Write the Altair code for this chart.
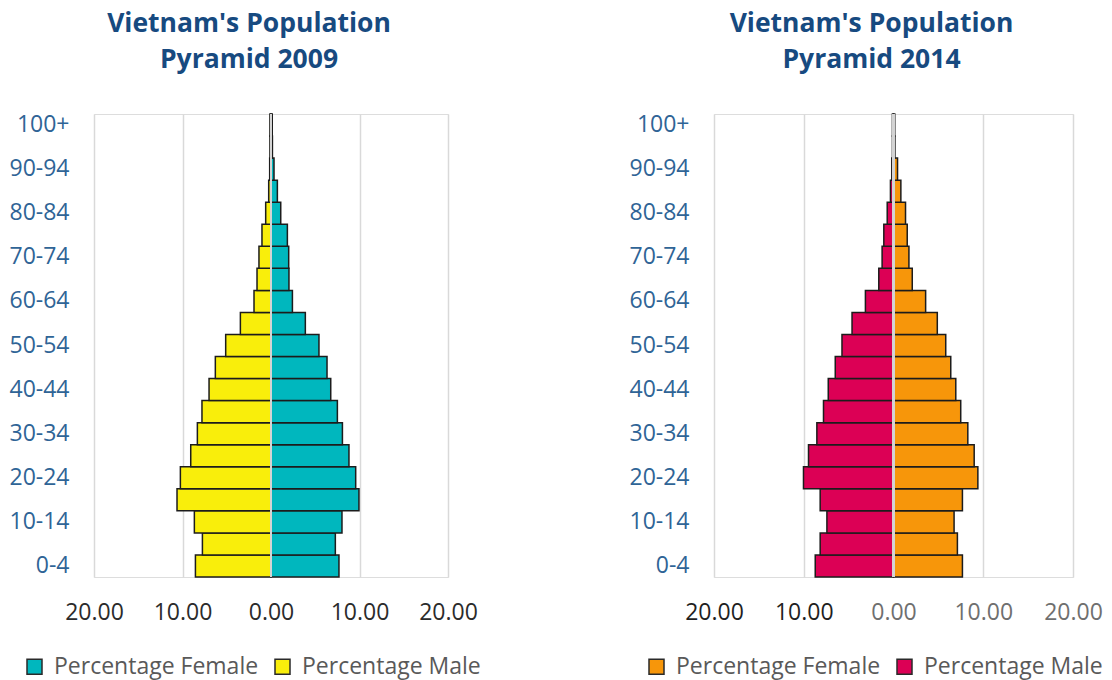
import altair as alt
import pandas as pd

# Five-year age groups, youngest first
ages = ["0-4", "5-9", "10-14", "15-19", "20-24", "25-29", "30-34", "35-39",
        "40-44", "45-49", "50-54", "55-59", "60-64", "65-69", "70-74",
        "75-79", "80-84", "85-89", "90-94", "95-99", "100+"]
age_ticks = ["0-4", "10-14", "20-24", "30-34", "40-44", "50-54",
             "60-64", "70-74", "80-84", "90-94", "100+"]

# Share of each sex (%) by age group
male_2009 = [8.54, 7.75, 8.66, 10.62, 10.24, 9.07, 8.32, 7.80, 7.00, 6.29,
             5.12, 3.46, 1.92, 1.58, 1.36, 1.02, 0.60, 0.26, 0.15, 0.12, 0.12]
female_2009 = [7.68, 7.27, 8.02, 9.94, 9.57, 8.81, 8.07, 7.50, 6.75, 6.33,
               5.42, 3.88, 2.42, 2.03, 2.00, 1.85, 1.10, 0.72, 0.34, 0.16, 0.14]
male_2014 = [8.72, 8.17, 7.42, 8.17, 10.03, 9.47, 8.54, 7.80, 7.27, 6.49,
             5.74, 4.62, 3.13, 1.64, 1.27, 1.08, 0.70, 0.34, 0.19, 0.12, 0.12]
female_2014 = [7.68, 7.12, 6.75, 7.68, 9.40, 8.99, 8.28, 7.49, 6.94, 6.38,
               5.82, 4.88, 3.58, 2.09, 1.72, 1.53, 1.34, 0.82, 0.45, 0.16, 0.14]

series_names = ["Percentage Female", "Percentage Male"]
colors_2009 = ["#00B7BE", "#F9EE0B"]
colors_2014 = ["#F7960A", "#DC0055"]

FONT = "Open Sans"


def pyramid(year, male, female, colors, plot_width, legend_x, x_label_color):
    rows = []
    for age, m, f in zip(ages, male, female):
        rows.append({"age": age, "sex": "Percentage Male", "value": m, "signed": -m})
        rows.append({"age": age, "sex": "Percentage Female", "value": f, "signed": f})
    df = pd.DataFrame(rows)

    bars = alt.Chart(df).mark_bar(stroke="#1c1c1c", strokeWidth=1.5).encode(
        x=alt.X(
            "signed:Q",
            scale=alt.Scale(domain=[-20, 20], nice=False),
            axis=alt.Axis(
                values=[-20, -10, 0, 10, 20],
                labelExpr="format(abs(datum.value), '.2f')",
                grid=True, gridColor="#d9d9d9", gridWidth=1.5,
                domain=False, ticks=False, labelFlush=False, labelOverlap=False,
                labelFont=FONT, labelFontSize=23, labelColor=x_label_color,
                labelPadding=24, title=None,
            ),
        ),
        y=alt.Y(
            "age:N",
            sort=list(reversed(ages)),
            scale=alt.Scale(paddingInner=0, paddingOuter=0),
            axis=alt.Axis(
                values=age_ticks, grid=False, domain=False, ticks=False,
                labelFont=FONT, labelFontSize=23, labelColor="#2F6496",
                labelPadding=25, title=None,
            ),
        ),
        color=alt.Color(
            "sex:N",
            scale=alt.Scale(domain=series_names, range=colors),
            legend=alt.Legend(
                title=None, orient="none", legendX=legend_x, legendY=541,
                direction="horizontal", symbolType="square", symbolSize=225,
                symbolStrokeColor="#2a2a2a", symbolStrokeWidth=1.5,
                symbolOpacity=1, labelLimit=400,
                labelFont=FONT, labelFontSize=23, labelColor="#595959",
                labelOffset=8, columnPadding=12,
            ),
        ),
        tooltip=["age:N", "sex:N", "value:Q"],
    )

    # light centre line drawn over the bars
    centre = alt.Chart(df).mark_rule(color="#d4d4d4", strokeWidth=2).encode(
        x=alt.datum(0)
    )

    return alt.layer(bars, centre).properties(
        width=plot_width,
        height=463,
        title=alt.TitleParams(
            text=["Vietnam's Population", f"Pyramid {year}"],
            font=FONT, fontSize=26.5, fontWeight="bold", color="#174A80",
            anchor="middle", lineHeight=36, offset=40, dx=-22,
        ),
    )


left = pyramid(2009, male_2009, female_2009, colors_2009, 354, -71, "#2b2b2b")
right = pyramid(
    2014, male_2014, female_2014, colors_2014, 359, -69,
    {"condition": {"test": "datum.value < 0", "value": "#1f1f1f"}, "value": "#6f6f6f"},
)

chart = (
    alt.hconcat(left, right, spacing=146)
    .resolve_scale(color="independent", x="independent", y="independent")
    .resolve_legend(color="independent")
    .properties(padding={"left": 8, "top": 10, "right": 0, "bottom": 2})
    .configure_view(strokeWidth=0, stroke="transparent")
    .configure(background="white")
)

chart.save("out.html", embed_options={"renderer": "svg", "actions": False})
